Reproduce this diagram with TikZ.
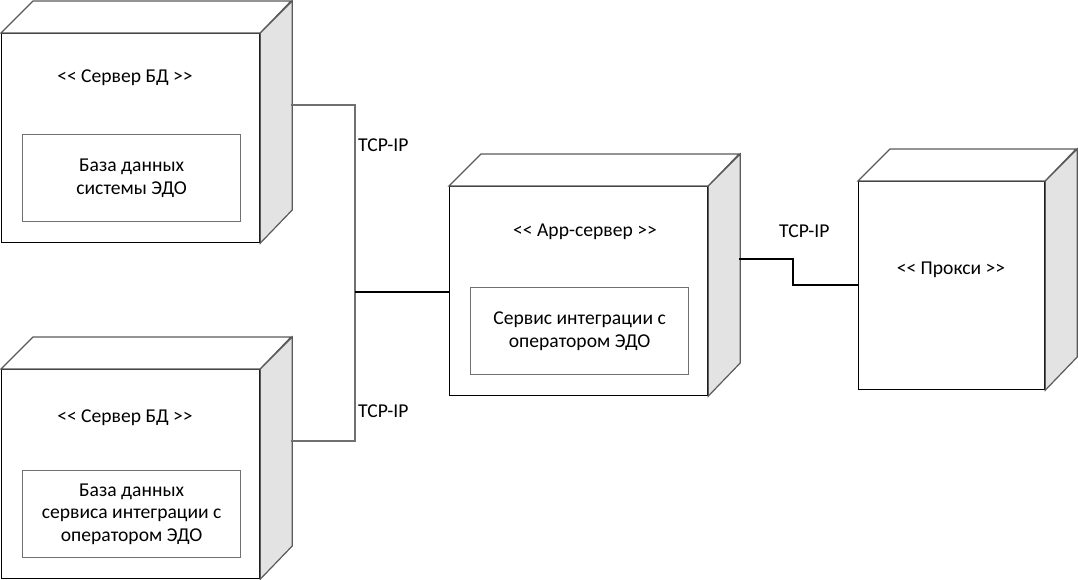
\documentclass[tikz,border=0pt]{standalone}
\usepackage{fontspec}
\setmainfont{Carlito}
\usetikzlibrary{calc}
\definecolor{sidegray}{HTML}{E3E3E3}
\definecolor{edgegray}{HTML}{5A5A5A}
\definecolor{linegray}{HTML}{707070}
\tikzset{
  front/.style={draw=black, line width=1.2pt, fill=white, inner sep=0pt, anchor=north west},
  sideface/.style={draw=edgegray, line width=1.2pt, fill=sidegray, line join=miter},
  topface/.style={draw=edgegray, line width=1.2pt, fill=white},
  inner/.style={draw=linegray, line width=1.2pt, fill=white, inner sep=0pt, anchor=north west, minimum width=218pt, align=center, font=\fontsize{19.6}{22.5}\selectfont},
  stereo/.style={font=\fontsize{19.6}{22.5}\selectfont, inner sep=0pt},
  conn/.style={line width=1.2pt},
  conng/.style={line width=1.2pt, draw=linegray},
  lbl/.style={font=\fontsize{19.6}{22.5}\selectfont, inner sep=0pt, anchor=west}
}
\newcommand\cubefaces[3]{% name, width, height
  \draw[topface] (#1.north west) -- ++(32,-32) -- ++(#2,0) -- (#1.north east) -- cycle;
  \draw[sideface] (#1.north east) -- ++(32,-32) -- ++(0,#3) -- (#1.south east) -- cycle;
}
\newcommand\stlt{{<}{<}}
\newcommand\stgt{{>}{>}}
\begin{document}
\begin{tikzpicture}[x=1pt,y=-1pt]
\useasboundingbox (0,0) rectangle (1078,579);
% server 1
\node[front, minimum width=258pt, minimum height=209pt] (s1) at (1,33) {};
\cubefaces{s1}{258}{209}
\node[stereo] (t1) at (125,78) {\stlt{} Сервер БД \stgt};
\node[inner, minimum height=87pt] (d1) at (22,134) {База данных\\системы ЭДО};
% server 2
\node[front, minimum width=258pt, minimum height=209pt] (s2) at (1,369) {};
\cubefaces{s2}{258}{209}
\node[stereo] (t2) at (125,418) {\stlt{} Сервер БД \stgt};
\node[inner, minimum height=87pt] (d2) at (22,470) {База данных\\сервиса интеграции с\\оператором ЭДО};
% app server
\node[front, minimum width=258pt, minimum height=209pt] (s3) at (449,186) {};
\cubefaces{s3}{258}{209}
\node[stereo] (t3) at (585,232) {\stlt{} App-сервер \stgt};
\node[inner, minimum height=87pt] (d3) at (470,287) {Сервис интеграции с\\оператором ЭДО};
% proxy
\node[front, minimum width=186pt, minimum height=208pt] (s4) at (858,181) {};
\cubefaces{s4}{186}{208}
\node[stereo] (t4) at (951,270) {\stlt{} Прокси \stgt};
% connectors
\coordinate (a1) at (291,105);
\coordinate (a2) at (291,441);
\coordinate (j) at (355,292);
\coordinate (a3) at (739,259);
\coordinate (k) at (793,285);
\draw[conng] (a1) -| (j);
\draw[conng] (a2) -| (j);
\draw[conn] (j) -- (s3.west |- j);
\draw[conn] (a3) -| (k) -- (s4.west |- k);
\node[lbl] (l1) at (358,145) {TCP-IP};
\node[lbl] (l2) at (358,411) {TCP-IP};
\node[lbl] (l3) at (779,231) {TCP-IP};
\end{tikzpicture}
\end{document}
